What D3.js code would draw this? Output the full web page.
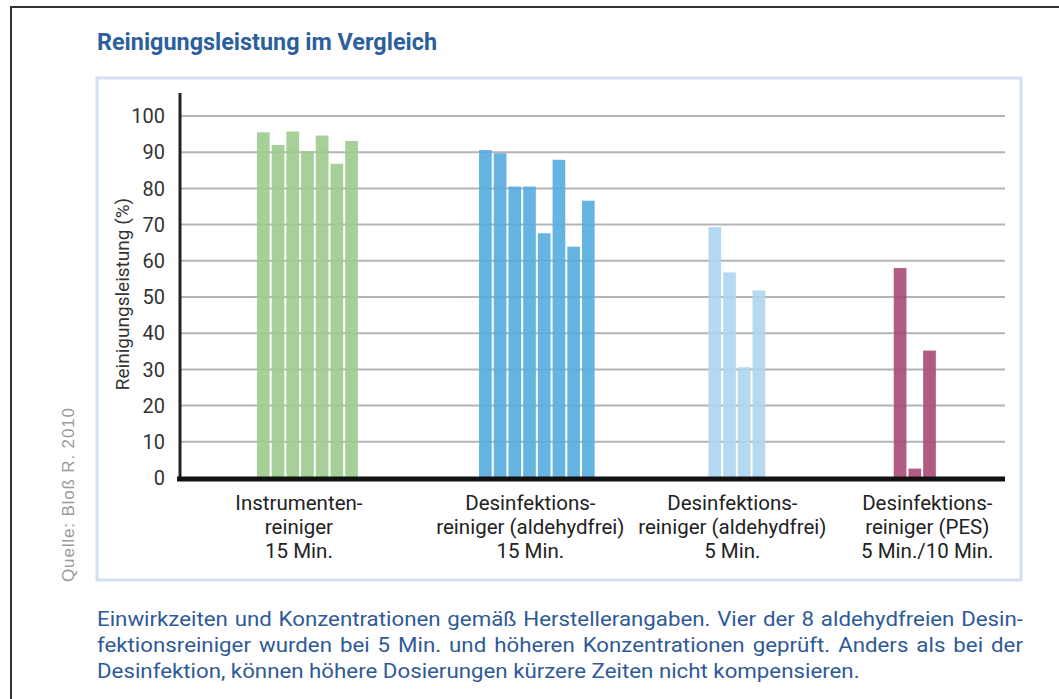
<!DOCTYPE html>
<html>
<head>
<meta charset="utf-8">
<script src="https://cdn.jsdelivr.net/npm/d3@7"></script>
<style>
  body { margin: 0; background: #fff; }
  svg { display: block; }
  .narrow { font-family: Roboto, "Liberation Sans", sans-serif; }
</style>
</head>
<body>
<div id="chart"></div>
<script>
//////////////////////////////////////////////
//////////////// Data ////////////////////////
//////////////////////////////////////////////

const titleText = "Reinigungsleistung im Vergleich";
const yLabel = "Reinigungsleistung (%)";
const sourceText = "Quelle: Bloß R. 2010";

// category labels (one entry per group, split in lines)
const categories = [
	["Instrumenten-", "reiniger", "15 Min."],
	["Desinfektions-", "reiniger (aldehydfrei)", "15 Min."],
	["Desinfektions-", "reiniger (aldehydfrei)", "5 Min."],
	["Desinfektions-", "reiniger (PES)", "5 Min./10 Min."]
];

// Reinigungsleistung (%) per product
const instrumentenreiniger15 = [95.5, 92, 95.7, 90.3, 94.6, 86.8, 93.1];
const aldehydfrei15 = [90.6, 89.7, 80.5, 80.5, 67.6, 87.9, 63.9, 76.6];
const aldehydfrei5 = [69.3, 56.8, 30.6, 51.8];
const pes = [58, 2.6, 35.2];

const yTicks = [0, 10, 20, 30, 40, 50, 60, 70, 80, 90, 100];

const captionLines = [
	"Einwirkzeiten und Konzentrationen gemäß Herstellerangaben. Vier der 8 aldehydfreien Desin-",
	"fektionsreiniger wurden bei  5 Min. und höheren Konzentrationen geprüft. Anders als bei der",
	"Desinfektion, können höhere Dosierungen kürzere Zeiten nicht kompensieren."
];

const groups = [instrumentenreiniger15, aldehydfrei15, aldehydfrei5, pes];

//////////////////////////////////////////////
//////////////// Layout //////////////////////
//////////////////////////////////////////////

const W = 1059, H = 699;
const plot = {left: 180, right: 1005, top: 116, bottom: 478};
const colors = ["#9ccb8c", "#55ace0", "#acd5ef", "#a94a76"];
// empty slots before each group, and after the last one
const gapSlots = [5.2, 8.1, 7.6, 8.6];
const trailingSlots = 4.6;
// labels are not exactly centred under their bars (px)
const labelShift = [-9, -7, -5, 12];
// caption block: justified width, width of the last (ragged) line
const captionX = 97, captionWidth = 926, captionLastWidth = 763;

// slot position of every group start
let cursor = 0;
const groupStart = groups.map((g, i) => {
	cursor += gapSlots[i];
	const s = cursor;
	cursor += g.length;
	return s;
});
const totalSlots = cursor + trailingSlots;

const x = d3.scaleLinear().domain([0, totalSlots]).range([plot.left, plot.right]);
const y = d3.scaleLinear().domain([0, 100]).range([plot.bottom, plot.top]);
const slotW = x(1) - x(0);

const svg = d3.select("#chart").append("svg")
	.attr("width", W)
	.attr("height", H);

// outer frame (top + left)
svg.append("path")
	.attr("d", `M11,${H} V7 H${W}`)
	.attr("fill", "none")
	.attr("stroke", "#333")
	.attr("stroke-width", 2);

// light blue chart box
svg.append("rect")
	.attr("x", 97).attr("y", 78)
	.attr("width", 1021 - 97).attr("height", 580 - 78)
	.attr("fill", "none")
	.attr("stroke", "#d3e0f1")
	.attr("stroke-width", 3);

// title
svg.append("text")
	.attr("class", "narrow")
	.attr("x", 97).attr("y", 50)
	.attr("textLength", 340)
	.attr("lengthAdjust", "spacingAndGlyphs")
	.style("font-size", "23px")
	.style("font-weight", "bold")
	.attr("fill", "#2c5f9c")
	.text(titleText);

// gridlines
svg.append("g").selectAll("line")
	.data(yTicks.filter(d => d > 0))
	.enter().append("line")
	.attr("x1", plot.left).attr("x2", plot.right)
	.attr("y1", d => y(d)).attr("y2", d => y(d))
	.attr("stroke", "#b4b4b4")
	.attr("stroke-width", 2);

// bars
const barG = svg.append("g");
groups.forEach((vals, gi) => {
	barG.selectAll(".bar" + gi)
		.data(vals)
		.enter().append("rect")
		.attr("x", (d, i) => x(groupStart[gi] + i) + 0.5)
		.attr("width", slotW - 2)
		.attr("y", d => y(d))
		.attr("height", d => y(0) - y(d))
		.attr("fill", colors[gi])
		.attr("fill-opacity", 0.9);
});

// y axis line
svg.append("line")
	.attr("x1", plot.left).attr("x2", plot.left)
	.attr("y1", 93).attr("y2", plot.bottom)
	.attr("stroke", "#222")
	.attr("stroke-width", 3);

// baseline
svg.append("line")
	.attr("x1", plot.left - 3).attr("x2", plot.right)
	.attr("y1", y(0) + 1).attr("y2", y(0) + 1)
	.attr("stroke", "#111")
	.attr("stroke-width", 5);

// tick labels
svg.append("g").selectAll("text")
	.data(yTicks)
	.enter().append("text")
	.attr("class", "narrow")
	.attr("x", 165)
	.attr("y", d => y(d))
	.attr("dy", "0.36em")
	.attr("text-anchor", "end")
	.style("font-size", "20px")
	.attr("fill", "#333")
	.text(d => d);

// y axis title
svg.append("text")
	.attr("class", "narrow")
	.attr("transform", "translate(129,294) rotate(-90)")
	.attr("text-anchor", "middle")
	.style("font-size", "19px")
	.attr("fill", "#333")
	.text(yLabel);

// category labels
categories.forEach((lines, gi) => {
	const cx = x(groupStart[gi] + groups[gi].length / 2) + labelShift[gi];
	const t = svg.append("text")
		.attr("class", "narrow")
		.attr("text-anchor", "middle")
		.style("font-size", "20.5px")
		.attr("fill", "#222");
	lines.forEach((ln, li) => {
		t.append("tspan")
			.attr("x", cx)
			.attr("y", 510 + li * 24)
			.text(ln);
	});
});

// source
svg.append("text")
	.attr("transform", "translate(74,495) rotate(-90)")
	.attr("text-anchor", "middle")
	.attr("textLength", 174)
	.attr("lengthAdjust", "spacing")
	.style("font-family", "'Liberation Sans', Arial, sans-serif")
	.style("font-size", "17px")
	.attr("fill", "#9a9a9a")
	.text(sourceText);

// caption: condensed glyphs, justified lines (last line ragged)
const capG = svg.append("g");
const capText = capG.selectAll("text")
	.data(captionLines)
	.enter().append("text")
	.attr("class", "narrow")
	.attr("x", 0)
	.attr("y", (d, i) => 626 + i * 26)
	.style("font-size", "21px")
	.attr("fill", "#2f5a98")
	.text(d => d);

const lastIdx = captionLines.length - 1;
const squeeze = captionLastWidth / capText.nodes()[lastIdx].getComputedTextLength();
capG.attr("transform", `translate(${captionX},0) scale(${squeeze},1)`);
// justify by widening the word gaps
capText.filter((d, i) => i < lastIdx).each(function(d) {
	const natural = this.getComputedTextLength();
	const spaces = d.trim().split(/\s+/).length - 1;
	d3.select(this).style("word-spacing", ((captionWidth / squeeze - natural) / spaces) + "px");
});
</script>
</body>
</html>
